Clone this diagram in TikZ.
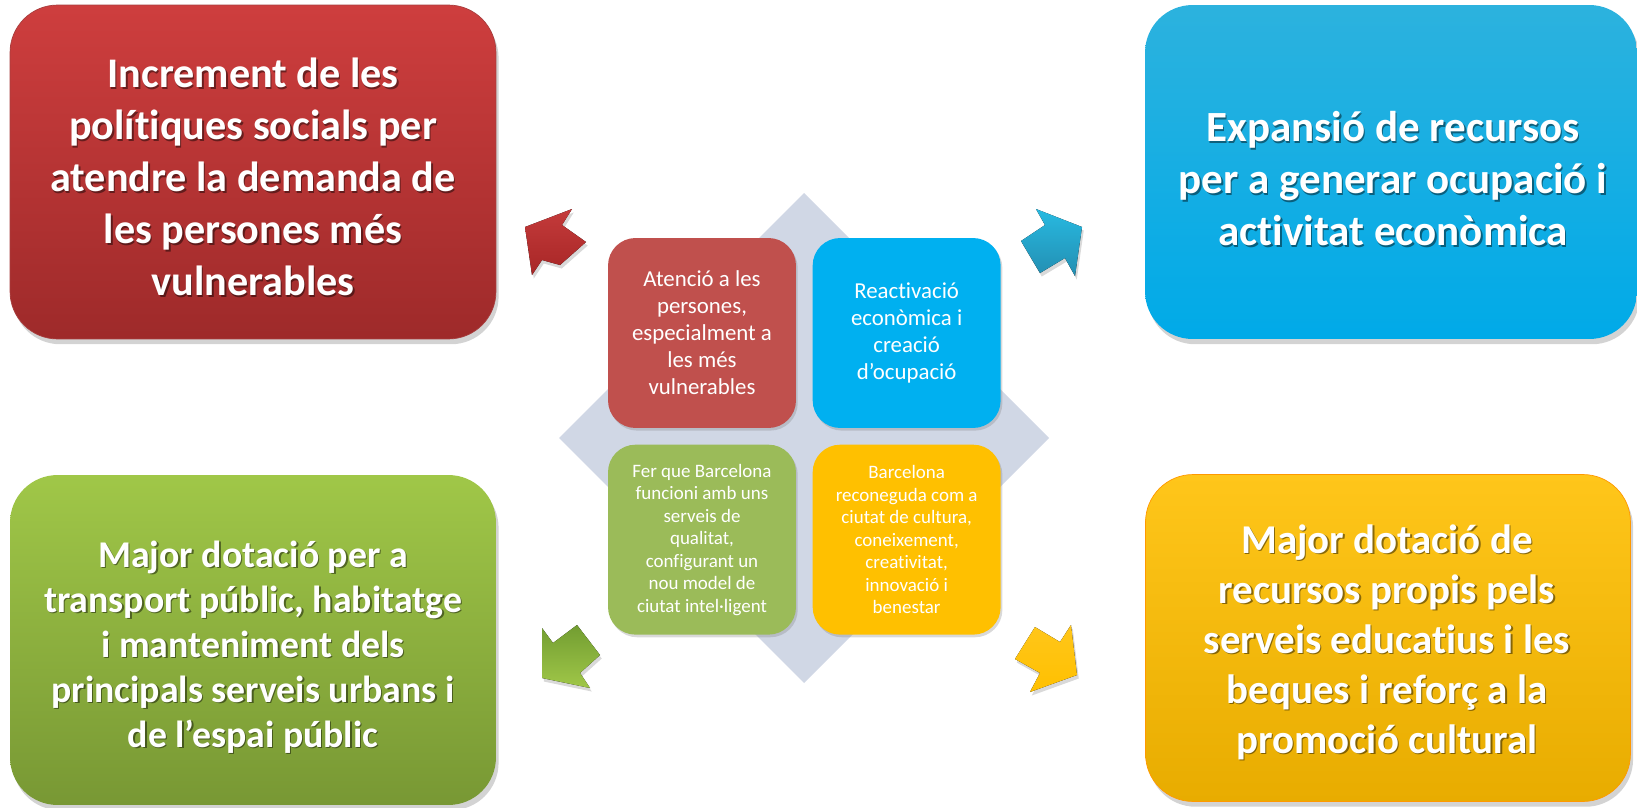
\documentclass[tikz,border=0pt]{standalone}
\usepackage{fontspec}
\setmainfont{Carlito}[Ligatures=NoCommon]
\usetikzlibrary{positioning,shadows}

\definecolor{redA}{RGB}{206,62,62}
\definecolor{redB}{RGB}{158,42,42}
\definecolor{blueA}{RGB}{44,178,222}
\definecolor{blueB}{RGB}{0,170,232}
\definecolor{greenA}{RGB}{160,199,72}
\definecolor{greenB}{RGB}{120,152,52}
\definecolor{orangeA}{RGB}{255,198,26}
\definecolor{orangeB}{RGB}{232,172,0}
\definecolor{diamC}{RGB}{208,215,229}
\definecolor{redS}{RGB}{192,80,77}
\definecolor{blueS}{RGB}{0,176,240}
\definecolor{greenS}{RGB}{155,187,89}
\definecolor{orangeS}{RGB}{255,192,0}

% white text with a soft dark copy underneath
\newcommand\shadowtext[4]{%
  \node[bigtext,font={\bfseries#2},text=black,opacity=.45] (#1-sh) at ([shift={(1.4,1.4)}]#3) {#4};
  \node[bigtext,font={\bfseries#2}] (#1) at (#3) {#4};}

\begin{document}
\begin{tikzpicture}[x=0.02cm,y=-0.02cm,
    bigbox/.style={rounded corners=0.95cm,minimum width=9.72cm,minimum height=6.68cm,
      drop shadow={opacity=.35,shadow xshift=1.5pt,shadow yshift=-3pt}},
    bigtext/.style={text=white,align=center,inner sep=0pt},
    smallbox/.style={rounded corners=0.55cm,minimum width=3.76cm,minimum height=3.8cm,
      text=white,align=center,inner sep=1pt,
      drop shadow={opacity=.3,shadow xshift=1pt,shadow yshift=-1.5pt}},
    blockarrow/.style={drop shadow={opacity=.3,shadow xshift=1pt,shadow yshift=-2pt}}]
  \useasboundingbox (0,0) rectangle (1637,808);
  % outer boxes
  \node[bigbox,top color=redA,bottom color=redB,draw=redB!90!white,thin] (social) at (253,172) {};
  \node[bigbox,top color=blueA,bottom color=blueB,minimum width=9.84cm] (expansio) at (1391,172) {};
  \node[bigbox,top color=greenA,bottom color=greenB,minimum height=6.6cm] (transport) at (253,640) {};
  \node[bigbox,top color=orangeA,bottom color=orangeB,draw=orange!80!yellow,thin,
    minimum width=9.7cm,minimum height=6.54cm] (educacio) at (1388,638) {};
  \shadowtext{socialT}{\fontsize{24}{29.6}\selectfont}{253,177}{Increment de les\\
    polítiques socials per\\ atendre la demanda de\\ les persones més\\ vulnerables}
  \shadowtext{expansioT}{\fontsize{24.5}{29.6}\selectfont}{1393,179}{Expansió de recursos\\
    per a generar ocupació i\\ activitat econòmica}
  \shadowtext{transportT}{\fontsize{21.5}{25.6}\selectfont}{253,647}{Major dotació per a\\
    transport públic, habitatge\\ i manteniment dels\\ principals serveis urbans i\\ de l’espai públic}
  \shadowtext{educacioT}{\fontsize{23.3}{28.5}\selectfont}{1387,642}{Major dotació de\\
    recursos propis pels\\ serveis educatius i les\\ beques i reforç a la\\ promoció cultural}
  % central diamond
  \fill[diamC] (804,193) -- (1049,438) -- (804,683) -- (559,438) -- cycle;
  % inner boxes
  \node[smallbox,fill=redS,font=\fontsize{13}{15.4}\selectfont] (persones) at (702,333)
    {Atenció a les\\ persones,\\ especialment a\\ les més\\ vulnerables};
  \node[smallbox,fill=blueS,font=\fontsize{13}{15.4}\selectfont,right=0.32cm of persones] (reactivacio)
    {Reactivació\\ econòmica i\\ creació\\ d’ocupació};
  \node[smallbox,fill=greenS,font=\fontsize{10.8}{12.8}\selectfont,below=0.32cm of persones] (serveis)
    {Fer que Barcelona\\ funcioni amb uns\\ serveis de\\ qualitat,\\ configurant un\\ nou model de\\ ciutat intel·ligent};
  \node[smallbox,fill=orangeS,font=\fontsize{10.8}{12.8}\selectfont,below=0.32cm of reactivacio] (cultura)
    {Barcelona\\ reconeguda com a\\ ciutat de cultura,\\ coneixement,\\ creativitat,\\ innovació i\\ benestar};
  % arrows
  \fill[blockarrow,top color=redA!95!black,bottom color=redB!90!red] (525,227) -- (572,209) -- (562,225)
    -- (586,242) -- (560,265) -- (542,260) -- (532,275) -- cycle;
  \fill[blockarrow,top color=blueA!90!cyan,bottom color=blueA!80!black] (1082,227) -- (1075,276) -- (1065,258)
    -- (1040,273) -- (1021,241) -- (1045,225) -- (1036,209) -- cycle;
  \fill[blockarrow,top color=greenB!95!green,bottom color=greenA] (542,678) -- (542,628) -- (553,643)
    -- (577,625) -- (600,655) -- (580,673) -- (590,688) -- cycle;
  \fill[blockarrow,top color=orangeA,bottom color=orangeS] (1077,675) -- (1071,625) -- (1060,642)
    -- (1035,627) -- (1015,659) -- (1040,673) -- (1030,692) -- cycle;
\end{tikzpicture}
\end{document}
